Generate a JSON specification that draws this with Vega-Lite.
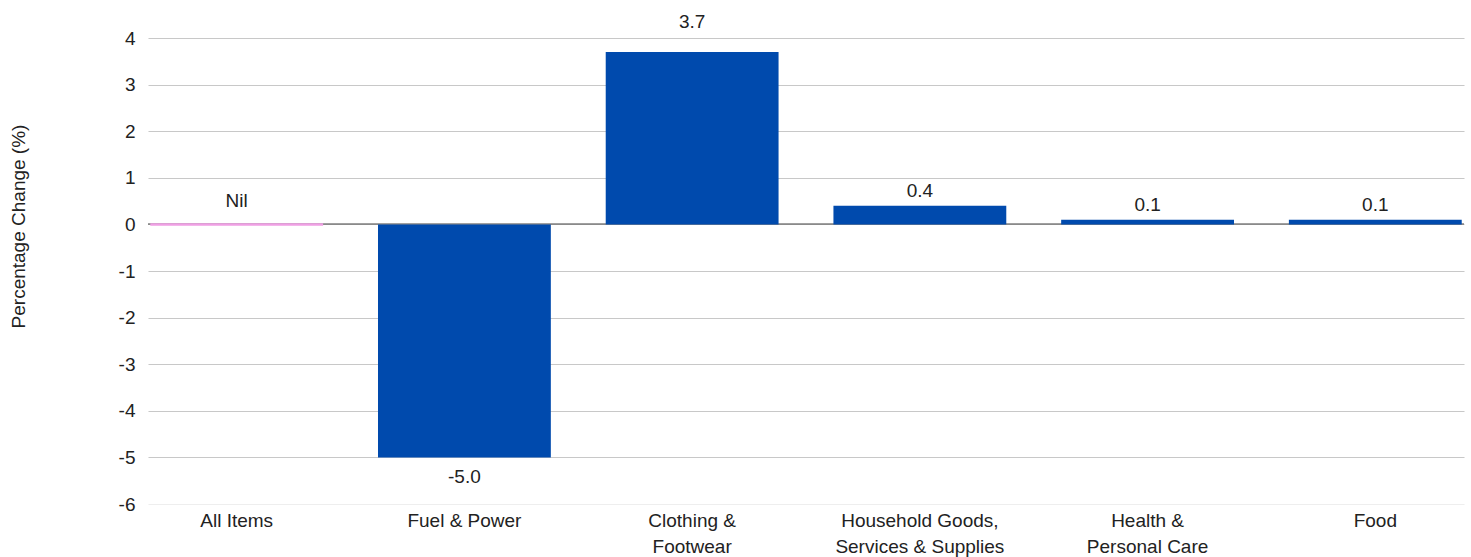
{
  "$schema": "https://vega.github.io/schema/vega-lite/v6.json",
  "autosize": {"type": "none"},
  "width": 1316,
  "height": 466,
  "padding": {"left": 148, "top": 38, "right": 7, "bottom": 53},
  "background": "white",
  "config": {
    "view": {"stroke": null},
    "font": "Liberation Sans",
    "text": {"font": "Liberation Sans", "fontSize": 19, "color": "#222"}
  },
  "data": {
    "values": [
      {"category": "All Items", "value": 0, "label": "Nil"},
      {"category": "Fuel & Power", "value": -5.0, "label": "-5.0"},
      {"category": "Clothing & Footwear", "value": 3.7, "label": "3.7"},
      {"category": "Household Goods, Services & Supplies", "value": 0.4, "label": "0.4"},
      {"category": "Health & Personal Care", "value": 0.1, "label": "0.1"},
      {"category": "Food", "value": 0.1, "label": "0.1"}
    ]
  },
  "encoding": {
    "x": {
      "field": "category",
      "type": "nominal",
      "sort": null,
      "scale": {"paddingInner": 0.241, "paddingOuter": 0.01},
      "axis": {
        "title": null,
        "labelAngle": 0,
        "labelFont": "Liberation Sans",
        "labelFontSize": 19,
        "labelColor": "#222",
        "labelPadding": 7,
        "labelLineHeight": 26,
        "labelBaseline": "top",
        "ticks": false,
        "domain": false,
        "grid": false,
        "labelExpr": "datum.value == 'Clothing & Footwear' ? ['Clothing &', 'Footwear'] : datum.value == 'Household Goods, Services & Supplies' ? ['Household Goods,', 'Services & Supplies'] : datum.value == 'Health & Personal Care' ? ['Health &', 'Personal Care'] : datum.value"
      }
    }
  },
  "layer": [
    {
      "mark": {"type": "rule", "color": "#8a8a8a", "strokeWidth": 1.2},
      "encoding": {"y": {"datum": 0, "type": "quantitative"}, "x": null}
    },
    {
      "mark": {"type": "bar", "color": "#004aad"},
      "encoding": {
        "y": {
          "field": "value",
          "type": "quantitative",
          "scale": {"domain": [-6, 4], "nice": false, "zero": true},
          "axis": {
            "title": "Percentage Change (%)",
            "titleFont": "Liberation Sans",
            "titleFontSize": 19,
            "titleFontWeight": "normal",
            "titleColor": "#222",
            "titleAngle": -90,
            "titleAlign": "center",
            "titleBaseline": "middle",
            "titleX": -130,
            "titleY": 188,
            "values": [-6, -5, -4, -3, -2, -1, 0, 1, 2, 3, 4],
            "labelExpr": "datum.value + ''",
            "labelFont": "Liberation Sans",
            "labelFontSize": 19,
            "labelColor": "#222",
            "labelPadding": 13,
            "ticks": false,
            "domain": false,
            "grid": true,
            "gridColor": {"condition": {"test": "datum.value == -6", "value": "#eeeeee"}, "value": "#c8c8c8"},
            "gridWidth": 1.2
          }
        }
      }
    },
    {
      "transform": [{"filter": "datum.value == 0"}],
      "mark": {"type": "bar", "fill": null, "stroke": "#ef9fe4", "strokeWidth": 2.5},
      "encoding": {"y": {"field": "value", "type": "quantitative"}}
    },
    {
      "transform": [{"filter": "datum.value > 1"}],
      "mark": {"type": "text", "baseline": "middle", "dy": -30},
      "encoding": {"y": {"field": "value", "type": "quantitative"}, "text": {"field": "label"}}
    },
    {
      "transform": [{"filter": "datum.value > 0 && datum.value <= 1"}],
      "mark": {"type": "text", "baseline": "middle", "dy": -15},
      "encoding": {"y": {"field": "value", "type": "quantitative"}, "text": {"field": "label"}}
    },
    {
      "transform": [{"filter": "datum.value == 0"}],
      "mark": {"type": "text", "baseline": "middle", "dy": -23},
      "encoding": {"y": {"field": "value", "type": "quantitative"}, "text": {"field": "label"}}
    },
    {
      "transform": [{"filter": "datum.value < 0"}],
      "mark": {"type": "text", "baseline": "middle", "dy": 20},
      "encoding": {"y": {"field": "value", "type": "quantitative"}, "text": {"field": "label"}}
    }
  ]
}
